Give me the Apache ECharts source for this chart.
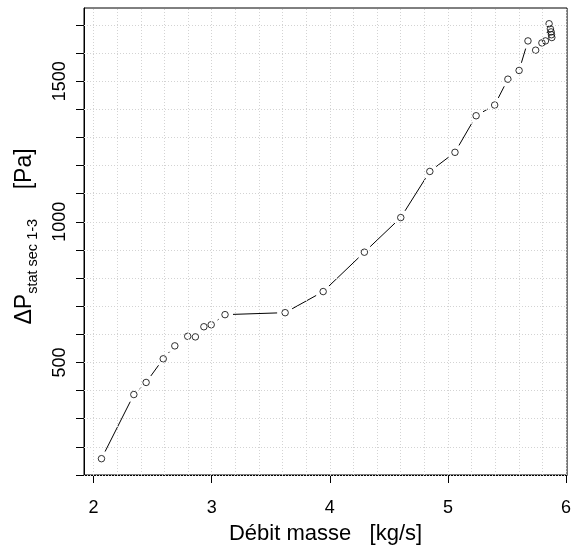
<!DOCTYPE html>
<html>
<head>
<meta charset="utf-8">
<script src="https://cdn.jsdelivr.net/npm/echarts@6/dist/echarts.min.js"></script>
<style>
html,body{margin:0;padding:0;background:#fff;}
#chart{width:574px;height:550px;}
</style>
</head>
<body>
<div id="chart"></div>
<script>
// ---- data ----
const massFlow = [2.067, 2.341, 2.445, 2.590, 2.688, 2.797, 2.862, 2.934, 2.996, 3.113, 3.622, 3.944, 4.293, 4.601, 4.847, 5.060, 5.239, 5.396, 5.508, 5.603, 5.678, 5.743, 5.796, 5.826, 5.857, 5.868, 5.874, 5.877, 5.880];
const deltaP   = [158, 386, 429, 513, 559, 593, 591, 627, 634, 670, 677, 752, 892, 1015, 1179, 1247, 1377, 1415, 1507, 1538, 1643, 1610, 1636, 1643, 1704, 1686, 1675, 1665, 1655];
const xTickLabels = [2, 3, 4, 5, 6];
const yTickLabels = [500, 1000, 1500];
const yMinorTicks = [100, 200, 300, 400, 500, 600, 700, 800, 900, 1000, 1100, 1200, 1300, 1400, 1500, 1600, 1700];
const xGridValues = [2.0, 2.2, 2.4, 2.6, 2.8, 3.0, 3.2, 3.4, 3.6, 3.8, 4.0, 4.2, 4.4, 4.6, 4.8, 5.0, 5.2, 5.4, 5.6, 5.8, 6.0];
const yGridValues = yMinorTicks;
const xTitle = 'Débit masse   [kg/s]';
const yTitleMain = 'ΔP';
const yTitleSub = 'stat sec 1-3';
const yTitleUnit = '    [Pa]';

const FONT = '"Liberation Sans", Arial, Helvetica, sans-serif';
const points = massFlow.map((x, i) => [x, deltaP[i]]);
const segments = [];
for (let i = 0; i < points.length - 1; i++) {
  segments.push([points[i][0], points[i][1], points[i + 1][0], points[i + 1][1]]);
}
const GAP = 8;

const chart = echarts.init(document.getElementById('chart'), null, {renderer: 'canvas'});
const gridLine = {color: '#d3d3d3', type: [1, 2], width: 1};
chart.setOption({
  animation: false,
  backgroundColor: '#fff',
  grid: {left: 84, right: 2, top: 8, bottom: 71, show: true, borderColor: '#000', borderWidth: 1, backgroundColor: 'transparent'},
  xAxis: {
    type: 'value', min: 1.919, max: 6.009,
    axisLine: {show: true, onZero: false, lineStyle: {color: '#000'}},
    axisTick: {show: true, length: 8, lineStyle: {color: '#000'}, customValues: xTickLabels},
    axisLabel: {customValues: xTickLabels, color: '#000', fontSize: 18, fontFamily: FONT, margin: 24,
      formatter: v => String(v)},
    splitLine: {show: false},
    name: xTitle, nameLocation: 'middle', nameGap: 48,
    nameTextStyle: {color: '#000', fontSize: 22, fontFamily: FONT}
  },
  yAxis: {
    type: 'value', min: 100, max: 1760, interval: 100,
    axisLine: {show: true, onZero: false, lineStyle: {color: '#000'}},
    axisTick: {show: true, length: 8, lineStyle: {color: '#000'}, customValues: yMinorTicks},
    axisLabel: {customValues: yTickLabels, rotate: 90, color: '#000', fontSize: 18, fontFamily: FONT, margin: 15,
      formatter: v => String(v)},
    splitLine: {show: false},
    name: '{m0|' + yTitleMain + '}{s|' + yTitleSub + '}{m|' + yTitleUnit + '}', nameLocation: 'middle', nameRotate: 90, nameGap: 44,
    nameTextStyle: {
      color: '#000', fontFamily: FONT,
      rich: {
        m0: {fontSize: 23, fontFamily: FONT, color: '#000', lineHeight: 30, verticalAlign: 'middle', padding: [0, 0, 0, 10]},
        m: {fontSize: 23, fontFamily: FONT, color: '#000', lineHeight: 30, verticalAlign: 'middle', padding: [0, 0, 0, 4]},
        s: {fontSize: 14.5, fontFamily: FONT, color: '#000', lineHeight: 15, verticalAlign: 'bottom'}
      }
    }
  },
  series: [
    {
      type: 'line', data: [], silent: true, z: 1,
      markLine: {
        silent: true, symbol: 'none', label: {show: false},
        lineStyle: gridLine,
        data: xGridValues.map(v => ({xAxis: v})).concat(yGridValues.map(v => ({yAxis: v})))
      }
    },
    {
      type: 'custom', z: 3, silent: true,
      data: segments,
      encode: {x: [0, 2], y: [1, 3]},
      renderItem: function (params, api) {
        const p1 = api.coord([api.value(0), api.value(1)]);
        const p2 = api.coord([api.value(2), api.value(3)]);
        const dx = p2[0] - p1[0], dy = p2[1] - p1[1];
        const d = Math.sqrt(dx * dx + dy * dy);
        if (d <= 2 * GAP) return null;
        const ux = dx / d, uy = dy / d;
        return {
          type: 'line',
          shape: {x1: p1[0] + ux * GAP, y1: p1[1] + uy * GAP, x2: p2[0] - ux * GAP, y2: p2[1] - uy * GAP},
          style: {stroke: '#000', lineWidth: 1}
        };
      }
    },
    {
      type: 'scatter', z: 4, silent: true,
      data: points, symbol: 'circle', symbolSize: 6.5,
      itemStyle: {color: 'transparent', borderColor: '#000', borderWidth: 1}
    }
  ]
});
</script>
</body>
</html>
